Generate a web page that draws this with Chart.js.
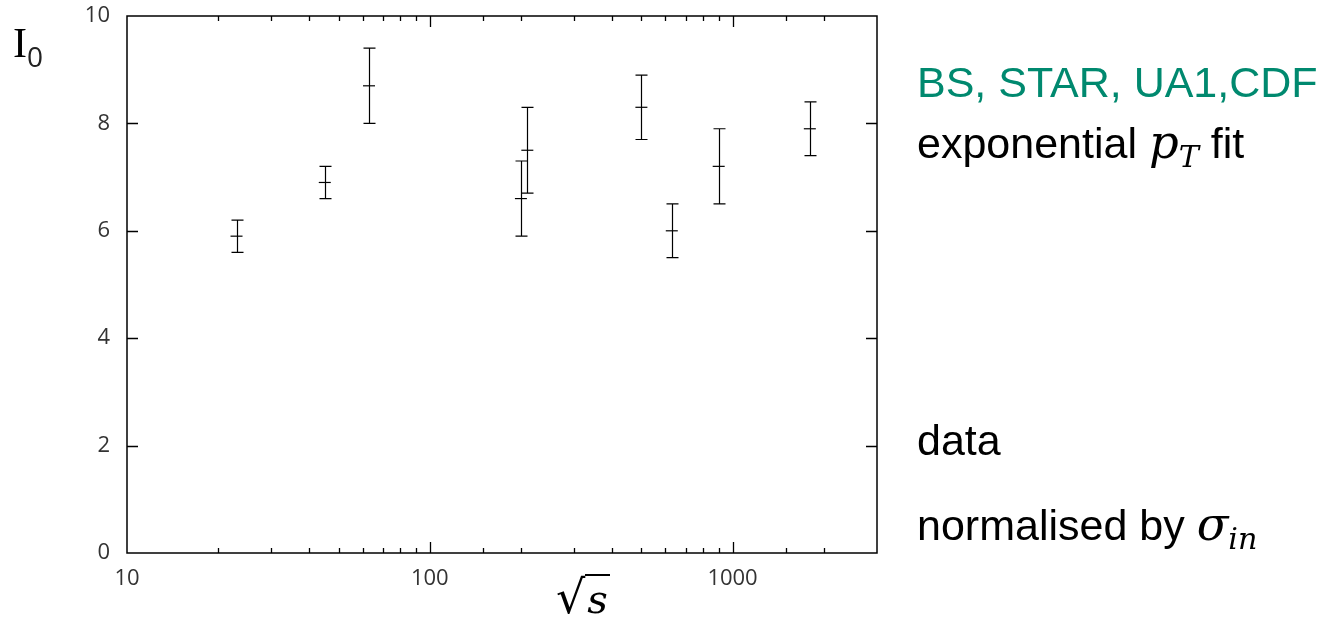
<!DOCTYPE html>
<html>
<head>
<meta charset="utf-8">
<script src="https://cdn.jsdelivr.net/npm/chart.js@4/dist/chart.umd.min.js"></script>
<style>
  html, body { margin: 0; padding: 0; background: #fff; }
  #wrap { position: relative; width: 1326px; height: 630px; overflow: hidden; }
  #c { position: absolute; left: 0; top: 0; }
  .lbl { position: absolute; white-space: nowrap; font-family: "Liberation Sans", Arial, sans-serif; font-size: 43px; color: #000; line-height: 1; }
  .teal { color: #00896f; }
  .math { font-family: "DejaVu Serif", "Liberation Serif", serif; font-style: italic; font-size: 1.08em; }
  sub { font-size: 0.65em; vertical-align: -0.3em; }
</style>
</head>
<body>
<div id="wrap">
  <canvas id="c" width="1326" height="630"></canvas>
  <div class="lbl" style="left:13px; top:22px; font-family:'Liberation Serif', serif; font-size:42px;">I<span style="font-family:'Open Sans', sans-serif; font-size:28px; position:relative; top:10px; color:#222;">0</span></div>
  <div class="lbl" style="left:556px; top:574px; font-family:'DejaVu Serif', serif; font-size:46px;">√<span style="font-style:italic; border-top:2px solid #000; padding:0 2px; font-size:40px;">s</span></div>
  <div class="lbl teal" style="left:917px; top:61px;">BS, STAR, UA1,CDF</div>
  <div class="lbl" style="left:917px; top:119px;">exponential <span class="math">p<sub>T</sub></span> fit</div>
  <div class="lbl" style="left:917px; top:419px;">data</div>
  <div class="lbl" style="left:917px; top:501px;">normalised by <span class="math">σ<sub>in</sub></span></div>
</div>
<script>
// sqrt(s) in GeV
const energies = [23, 45, 63, 200, 210, 500, 630, 900, 1800];
// I0 central values
const i0Values = [5.9, 6.9, 8.7, 6.6, 7.5, 8.3, 6.0, 7.2, 7.9];
// error bar ends
const errHigh = [6.2, 7.2, 9.4, 7.3, 8.3, 8.9, 6.5, 7.9, 8.4];
const errLow  = [5.6, 6.6, 8.0, 5.9, 6.7, 7.7, 5.5, 6.5, 7.4];
const yTicks = [0, 2, 4, 6, 8, 10];
const xRange = [10, 3000];

const points = energies.map((e, i) => ({ x: e, y: i0Values[i] }));

const errorBars = {
  id: 'errorBars',
  afterDatasetsDraw(chart) {
    const { ctx, scales: { x, y } } = chart;
    ctx.save();
    ctx.strokeStyle = '#000';
    ctx.lineWidth = 1.2;
    const cap = 6;
    energies.forEach((e, i) => {
      const px = Math.round(x.getPixelForValue(e)) + 0.5;
      const yt = y.getPixelForValue(errHigh[i]);
      const yb = y.getPixelForValue(errLow[i]);
      ctx.beginPath();
      ctx.moveTo(px, yt); ctx.lineTo(px, yb);
      ctx.moveTo(px - cap, yt); ctx.lineTo(px + cap, yt);
      ctx.moveTo(px - cap, yb); ctx.lineTo(px + cap, yb);
      ctx.stroke();
    });
    ctx.restore();
  }
};

const frameTicks = {
  id: 'frameTicks',
  afterDraw(chart) {
    const { ctx, chartArea: a, scales: { x, y } } = chart;
    ctx.save();
    ctx.strokeStyle = '#000';
    ctx.lineWidth = 1.5;
    ctx.strokeRect(a.left, a.top, a.right - a.left, a.bottom - a.top);
    ctx.lineWidth = 1.3;
    ctx.beginPath();
    x.ticks.forEach(t => {
      const v = t.value;
      if (v <= xRange[0] || v >= xRange[1]) return;
      const lg = Math.log10(v);
      const major = Math.abs(lg - Math.round(lg)) < 1e-9;
      const len = major ? 11 : 5;
      const px = Math.round(x.getPixelForValue(v)) + 0.5;
      ctx.moveTo(px, a.bottom); ctx.lineTo(px, a.bottom - len);
      ctx.moveTo(px, a.top); ctx.lineTo(px, a.top + len);
    });
    y.ticks.forEach(t => {
      const v = t.value;
      if (v <= yTicks[0] || v >= yTicks[yTicks.length - 1]) return;
      const py = Math.round(y.getPixelForValue(v)) + 0.5;
      ctx.moveTo(a.left, py); ctx.lineTo(a.left + 11, py);
      ctx.moveTo(a.right, py); ctx.lineTo(a.right - 11, py);
    });
    ctx.stroke();
    ctx.restore();
  }
};

function zeroPad(s) { s.paddingTop = 0; s.paddingBottom = 0; s.paddingLeft = 0; s.paddingRight = 0; }

new Chart(document.getElementById('c'), {
  type: 'scatter',
  data: {
    datasets: [{
      data: points,
      pointStyle: 'line',
      pointRadius: 6,
      pointHoverRadius: 6,
      borderColor: '#000',
      backgroundColor: '#000',
      borderWidth: 1.2
    }]
  },
  options: {
    responsive: false,
    animation: false,
    events: [],
    layout: { padding: { left: 0, top: 16, right: 449, bottom: 0 } },
    plugins: { legend: { display: false }, tooltip: { enabled: false } },
    scales: {
      x: {
        type: 'logarithmic',
        min: xRange[0],
        max: xRange[1],
        grid: { display: false, drawTicks: false },
        border: { display: false },
        ticks: {
          autoSkip: false,
          maxRotation: 0,
          padding: 13,
          color: '#333',
          font: { family: 'Open Sans', size: 22 },
          callback(v) {
            const lg = Math.log10(v);
            return Math.abs(lg - Math.round(lg)) < 1e-9 ? String(v) : '';
          }
        },
        afterFit(s) { s.height = 77; zeroPad(s); }
      },
      y: {
        min: yTicks[0],
        max: yTicks[yTicks.length - 1],
        grid: { display: false, drawTicks: false },
        border: { display: false },
        afterBuildTicks(s) { s.ticks = yTicks.map(v => ({ value: v })); },
        ticks: {
          padding: 17,
          color: '#333',
          font: { family: 'Open Sans', size: 22 }
        },
        afterFit(s) { s.width = 127; zeroPad(s); }
      }
    }
  },
  plugins: [errorBars, frameTicks]
});
</script>
</body>
</html>
